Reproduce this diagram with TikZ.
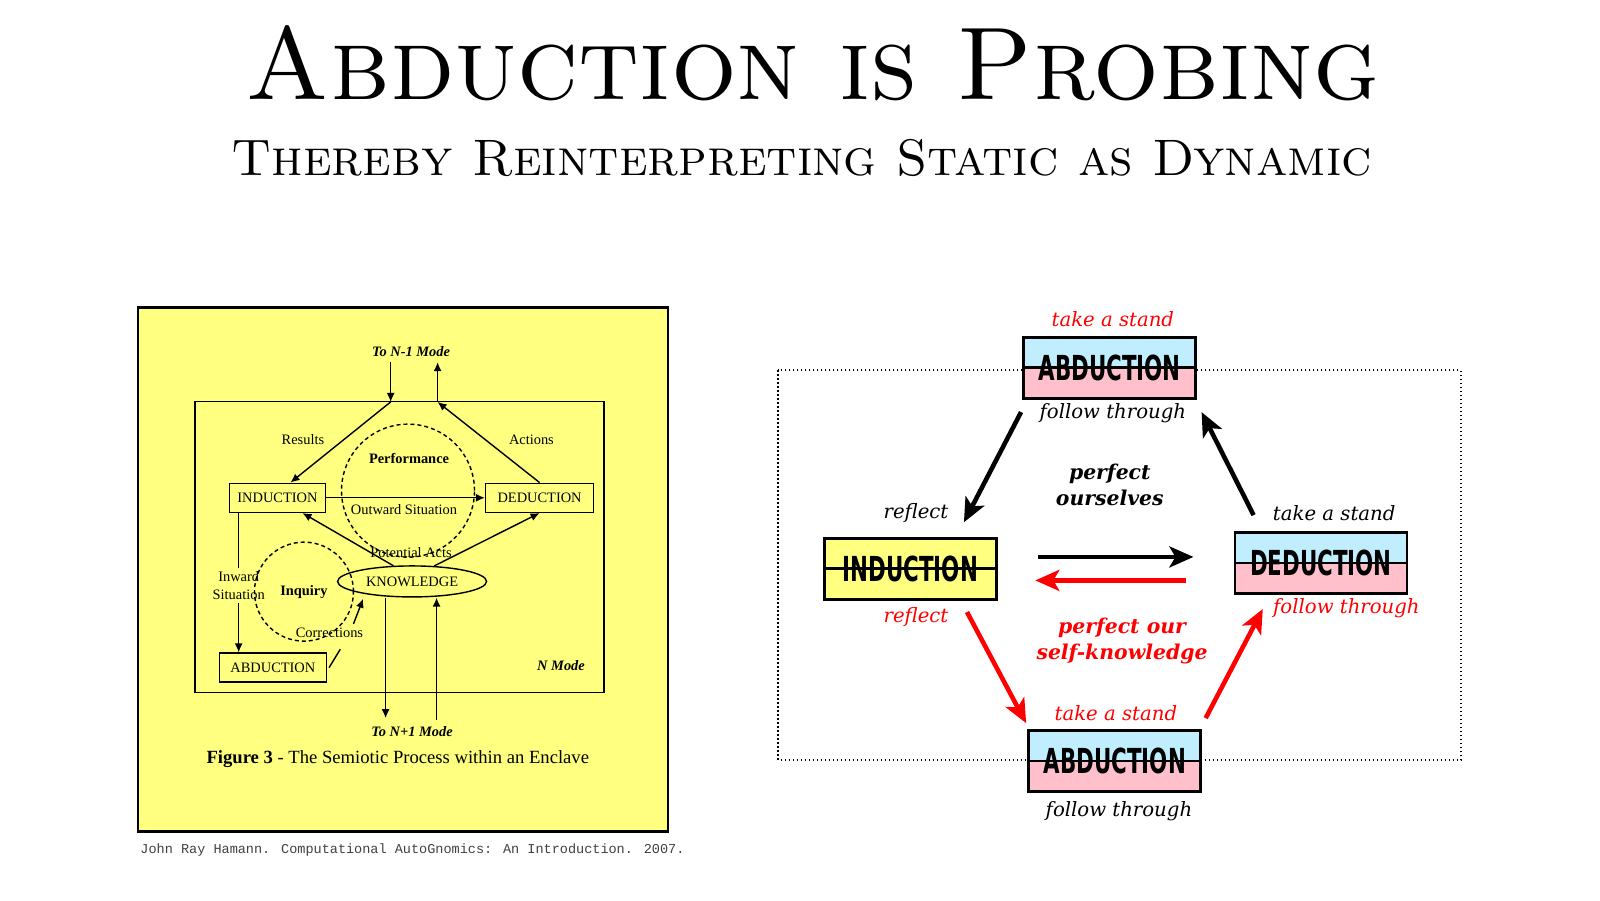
\documentclass[tikz,border=0pt]{standalone}
\usepackage{fontspec}
\newfontfamily\figfont{Liberation Serif}
\newfontfamily\verbfont{DejaVu Serif}
\newfontfamily\stagefont[FakeStretch=0.62]{DejaVu Sans}
\newfontfamily\citefont{Liberation Mono}
\usetikzlibrary{arrows.meta,shapes.geometric}
\definecolor{paneyellow}{RGB}{255,255,128}
\definecolor{stagecyan}{RGB}{192,238,255}
\definecolor{stagepink}{RGB}{255,192,203}

\begin{document}
\begin{tikzpicture}[x=0.102mm,y=-0.102mm,
  fig/.style={font=\figfont\fontsize{4.1}{4.9}\selectfont,inner sep=0.3mm},
  figbox/.style={fig,draw,line width=0.4pt,minimum height=2.9mm},
  figring/.style={circle,draw,line width=0.4pt,dash pattern=on 0.4mm off 0.3mm},
  figarrow/.style={line width=0.4pt,-{Latex[length=0.9mm,width=0.8mm]}},
  stage/.style={draw,line width=0.8pt,minimum width=17.2mm,minimum height=6.1mm,inner sep=0pt,
    font=\stagefont\bfseries\fontsize{9.8}{10}\selectfont},
  split/.style={stage,fill=stagepink,path picture={
    \fill[stagecyan] (path picture bounding box.north west) rectangle (path picture bounding box.east);}},
  verb/.style={font=\verbfont\itshape\fontsize{5.6}{6.7}\selectfont,inner sep=0pt},
  goal/.style={font=\verbfont\bfseries\itshape\fontsize{5.8}{7.3}\selectfont,align=center,inner sep=0pt},
  move/.style={line width=1.3pt,-{Stealth[length=2.4mm,width=2.1mm,inset=0.6mm]}}]
\useasboundingbox (0,0) rectangle (1568.6,882.4);

% title
\node (title) at (797,62) {\fontsize{29.4}{35}\selectfont\textsc{Abduction is Probing}};
\node (subtitle) at (786,155) {\fontsize{14.6}{18}\selectfont\textsc{Thereby Reinterpreting Static as Dynamic}};

% left: the scanned figure
\node[draw,line width=0.8pt,fill=paneyellow,minimum width=53mm,minimum height=52.4mm,inner sep=0pt] (pane) at (395,558) {};
\node[draw,line width=0.4pt,minimum width=40.9mm,minimum height=29.1mm,inner sep=0pt] (nframe) at (391.5,536.5) {};
\coordinate (upin) at (383,355);
\coordinate (upout) at (429,355);
\coordinate (frameL) at (383,394);
\coordinate (frameR) at (429,394);
\coordinate (downout) at (378,704);
\coordinate (downin) at (428,706);

\node[fig] (upmode) at (403,345) {\bfseries\itshape To N-1 Mode};
\node[fig] (results) at (297,431) {Results};
\node[fig] (actions) at (521,431) {Actions};
\node[figring,minimum size=13.3mm] (perform) at (400,481) {};
\node[fig] (perflabel) at (401,449) {\bfseries Performance};
\node[fig] (outward) at (396,500) {Outward Situation};
\node[fig] (potential) at (403,542) {Potential Acts};
\node[figbox,minimum width=9.6mm] (indf) at (272,488) {INDUCTION};
\node[figbox,minimum width=10.8mm] (dedf) at (529,488) {DEDUCTION};
\node[figbox,minimum width=10.7mm] (abdf) at (267.5,654.5) {ABDUCTION};
\node[fig,draw,line width=0.4pt,ellipse,inner sep=0pt,minimum width=14.9mm,minimum height=3.1mm] (know) at (404,570) {KNOWLEDGE};
\node[figring,minimum size=9.9mm] (inquiry) at (298,580) {};
\node[fig] (inqlabel) at (298,580) {\bfseries Inquiry};
\node[fig,align=center] (inward) at (234,574) {Inward\\Situation};
\node[fig] (corr) at (323,620) {Corrections};
\node[fig] (nmode) at (550,652) {\bfseries\itshape N Mode};
\node[fig] (downmode) at (404,717) {\bfseries\itshape To N+1 Mode};
\node[fig,font=\figfont\fontsize{5.3}{6.4}\selectfont] (caption) at (390,744) {\textbf{Figure 3} - The Semiotic Process within an Enclave};

\draw[figarrow] (upin) -- (frameL);
\draw[figarrow] (frameR) -- (upout);
\draw[figarrow] (frameL) -- ([xshift=1.3mm]indf.north);
\draw[figarrow] (dedf.north) -- (frameR);
\draw[figarrow] (indf) -- (dedf);
\draw[figarrow] (know.140) -- ([xshift=2.5mm]indf.south);
\draw[figarrow] (know.35) -- (dedf.south);
\draw[line width=0.4pt] (indf.south west -| inward) -- (inward.north);
\draw[figarrow] (inward.south) -- (abdf.north west -| inward);
\draw[figarrow,shorten >=0.5mm] ([xshift=2.4mm]corr.north) -- (know.195);
\draw[line width=0.4pt] ([xshift=0.2mm]abdf.east) -- +(11,-18);
\draw[figarrow] (know.south -| downout) -- (downout);
\draw[figarrow] (downin) -- (know.south -| downin);

\node[anchor=west,inner sep=0pt,text=darkgray,font=\citefont\fontsize{3.85}{4.6}\selectfont] (cite) at (137,833)
  {John Ray Hamann. Computational AutoGnomics: An Introduction. 2007.};

% right: the cycle
\draw[line width=0.5pt,dash pattern=on 0.15mm off 0.25mm] (763,363) rectangle (1432,745);
\node[split] (abdtop) at (1088,360.5) {ABDUCTION};
\node[stage,fill=paneyellow] (indr) at (892.5,557.5) {INDUCTION};
\node[split] (dedr) at (1295,552) {DEDUCTION};
\node[split] (abdbot) at (1093,746) {ABDUCTION};
\foreach \s in {abdtop,indr,dedr,abdbot}
  \draw[line width=0.8pt] (\s.west) -- (\s.east);

\node[verb,red] (standtop) at (1091,313) {take a stand};
\node[verb] (followtop) at (1091,405) {follow through};
\node[verb] (reflectup) at (898,503) {reflect};
\node[verb,red] (reflectdn) at (898,605) {reflect};
\node[verb] (standded) at (1308,503) {take a stand};
\node[verb,red] (followded) at (1320,596) {follow through};
\node[verb,red] (standbot) at (1094,699) {take a stand};
\node[verb] (followbot) at (1097,795) {follow through};
\node[goal] (selfperfect) at (1088,475.5) {perfect\\ourselves};
\node[goal,red] (selfknow) at (1100,628.5) {perfect our\\self-knowledge};

\coordinate (abdtopout) at (1001,404);
\coordinate (indrin) at (945,512);
\coordinate (dedrout) at (1229,505);
\coordinate (abdtopin) at (1178,404);
\coordinate (indrout) at (1018,546);
\coordinate (dedrin) at (1170,546);
\coordinate (dedrback) at (1163,569);
\coordinate (indrback) at (1015,569);
\coordinate (indrdown) at (948,600);
\coordinate (abdbotin) at (1006,709);
\coordinate (abdbotout) at (1182,704);
\coordinate (dedrup) at (1238,597);

\draw[move] (abdtopout) -- (indrin);
\draw[move] (dedrout) -- (abdtopin);
\draw[move] (indrout) -- (dedrin);
\draw[move,red] (dedrback) -- (indrback);
\draw[move,red] (indrdown) -- (abdbotin);
\draw[move,red] (abdbotout) -- (dedrup);
\end{tikzpicture}
\end{document}
